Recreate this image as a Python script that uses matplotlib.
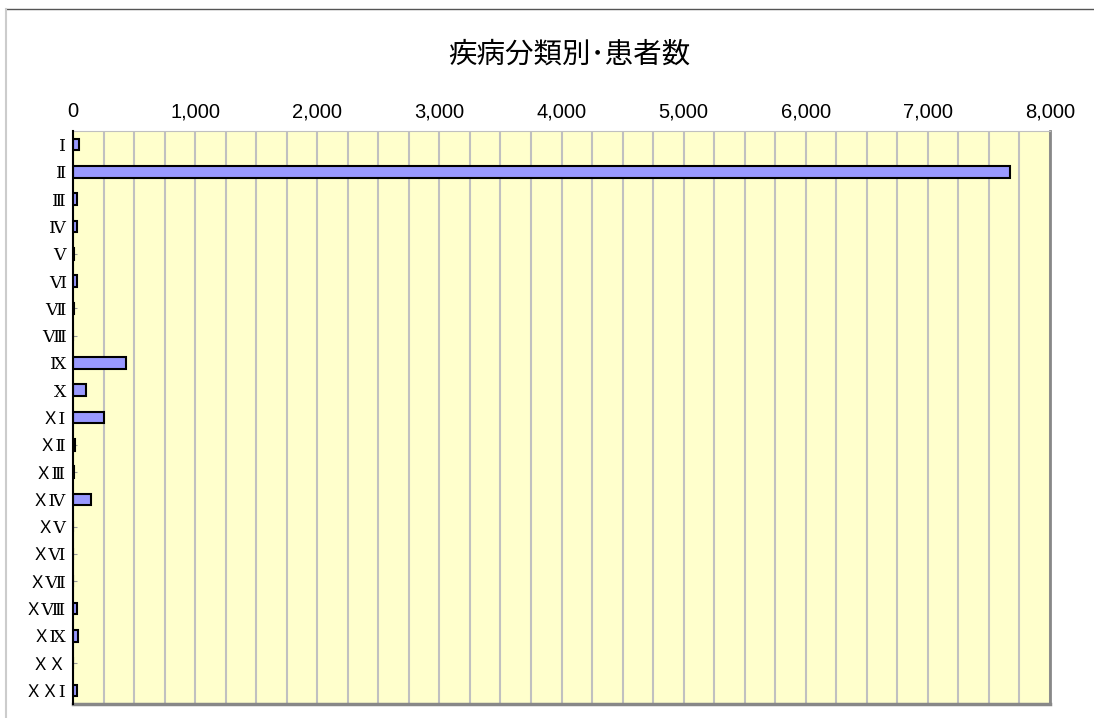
import matplotlib
matplotlib.use('Agg')
import matplotlib.pyplot as plt
from matplotlib.lines import Line2D
import numpy as np

plt.rcParams['font.family'] = ['Noto Sans CJK JP', 'DejaVu Sans']

# disease classification labels (full-width roman numerals)
labels = ['Ⅰ', 'Ⅱ', 'Ⅲ', 'Ⅳ', 'Ⅴ', 'Ⅵ', 'Ⅶ', 'Ⅷ', 'Ⅸ', 'Ⅹ',
          'ＸⅠ', 'ＸⅡ', 'ＸⅢ', 'ＸⅣ', 'ＸⅤ', 'ＸⅥ', 'ＸⅦ', 'ＸⅧ', 'ＸⅨ',
          'ＸＸ', 'ＸＸⅠ']
patients = [50, 7673, 30, 35, 5, 35, 5, 0, 434, 105,
            254, 15, 8, 148, 0, 0, 0, 35, 45, 0, 30]

fig = plt.figure(figsize=(10.94, 7.18), dpi=100)
ax = fig.add_axes([73 / 1094, 1 - 704 / 718, 977 / 1094, 573 / 718])

y = np.arange(len(labels))
ax.barh(y, patients, height=0.42, color='#9999FF', edgecolor='black',
        linewidth=1.5, zorder=3)

ax.set_xlim(0, 8000)
ax.set_ylim(len(labels) - 0.5, -0.5)
ax.set_facecolor('#FFFFCC')

ax.set_xticks(np.arange(0, 8001, 1000))
ax.set_xticks(np.arange(0, 8001, 250), minor=True)
ax.set_xticklabels([f'{v:,}' for v in range(0, 8001, 1000)],
                   family=['Liberation Sans', 'DejaVu Sans'], fontsize=14.5)
ax.xaxis.tick_top()
ax.tick_params(axis='x', which='both', length=0, pad=7)
ax.grid(axis='x', which='both', color='#C0C0C0', linewidth=1.5, zorder=1)

ax.set_yticks(y)
ax.set_yticklabels(labels, fontsize=12.5,
                   family=['DejaVu Serif', 'Noto Sans CJK JP'])
ax.tick_params(axis='y', direction='in', length=3, color='#999999', pad=5)

ax.spines['left'].set_color('black')
ax.spines['left'].set_linewidth(1.5)
ax.spines['left'].set_zorder(4)
ax.spines['top'].set_color('#C0C0C0')
ax.spines['right'].set_color('#888888')
ax.spines['right'].set_linewidth(2)
ax.spines['bottom'].set_color('#888888')
ax.spines['bottom'].set_linewidth(2.5)

fig.text(569 / 1094, 1 - 55 / 718, '疾病分類別･患者数', fontsize=20.5,
         ha='center', va='center')

# chart area frame
fig.add_artist(Line2D([6 / 1094, 1], [1 - 9 / 718, 1 - 9 / 718],
                      color='#555555', linewidth=1))
fig.add_artist(Line2D([6 / 1094, 6 / 1094], [0, 1 - 9 / 718],
                      color='#CCCCCC', linewidth=1.5))

fig.savefig('out.png', dpi=100)
